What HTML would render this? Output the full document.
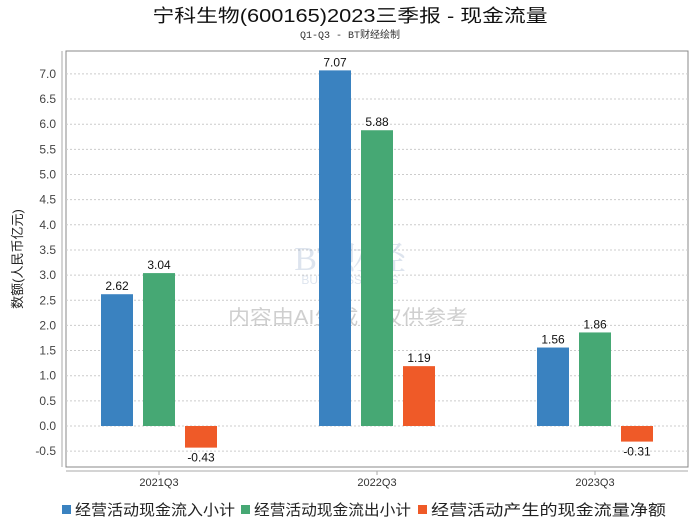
<!DOCTYPE html>
<html><head><meta charset="utf-8"><style>
body{margin:0;background:#fff;font-family:"Liberation Sans","Noto Sans CJK SC",sans-serif;}
</style></head><body>
<svg width="700" height="524" xmlns="http://www.w3.org/2000/svg" font-family="Liberation Sans, Noto Sans CJK SC, sans-serif">
<text x="350" y="22" text-anchor="middle" font-size="18" fill="#111" textLength="395" lengthAdjust="spacingAndGlyphs">宁科生物(600165)2023三季报 - 现金流量</text>
<text x="350" y="38" text-anchor="middle" font-size="10" fill="#333" font-family="Liberation Mono, Noto Sans CJK SC, monospace">Q1-Q3 - BT财经绘制</text>
<rect x="66" y="51" width="622" height="416" fill="none" stroke="#888" stroke-width="1"/>
<line x1="62" y1="51" x2="62" y2="467" stroke="#aaa"/>
<line x1="66" y1="471" x2="688" y2="471" stroke="#aaa"/>
<g id="grid"></g>
<g opacity="0.18">
<text x="350" y="270" text-anchor="middle" font-size="34" font-family="Liberation Serif, Noto Serif CJK SC, serif" fill="#4a6fa5">BT财经</text>
<text x="350" y="284" text-anchor="middle" font-size="12" fill="#4a6fa5">BUSINESSTIMES</text>
</g>
<text x="348" y="324" text-anchor="middle" font-size="20" fill="#bbb" opacity="0.7" textLength="240" lengthAdjust="spacingAndGlyphs">内容由AI生成，仅供参考</text>
<g id="bars"></g>
<text transform="translate(22,259) rotate(-90)" text-anchor="middle" font-size="13" fill="#222">数额(人民币亿元)</text>
<g id="legend"></g>
</svg>
<script>
const categories=["2021Q3","2022Q3","2023Q3"];
const inflow=[2.62,7.07,1.56];
const outflow=[3.04,5.88,1.86];
const net=[-0.43,1.19,-0.31];
const seriesNames=["经营活动现金流入小计","经营活动现金流出小计","经营活动产生的现金流量净额"];
const yTicks=[-0.5,0,0.5,1,1.5,2,2.5,3,3.5,4,4.5,5,5.5,6,6.5,7];
const colors=["#3a82c0","#46a874","#ef5a28"];
const NS="http://www.w3.org/2000/svg";
function y(v){return 426-v*50.3;}
function cx(i){return 159+i*218;}
function mk(t,a,p){const e=document.createElementNS(NS,t);for(const k in a)e.setAttribute(k,a[k]);p.appendChild(e);return e;}
const grid=document.getElementById('grid');
yTicks.forEach(t=>{
  const l=mk('line',{x1:66,x2:688,y1:y(t),y2:y(t),stroke:'#ccc','stroke-dasharray':'2,2'},grid);
  
  
  const tx=mk('text',{x:56,y:y(t)+4,'text-anchor':'end','font-size':12,fill:'#444'},grid);
  tx.textContent=t.toFixed(1);
  
  
});
const bars=document.getElementById('bars');
const series=[inflow,outflow,net];
categories.forEach((c,i)=>{
  const tk=mk('line',{x1:cx(i),x2:cx(i),y1:471,y2:475,stroke:'#aaa'},bars);
  
  
  const lt=mk('text',{x:cx(i),y:486,'text-anchor':'middle','font-size':11,fill:'#333'},bars);
  lt.textContent=c;
  
  
  series.forEach((s,j)=>{
    const v=s[i];const x=cx(i)-58+j*42;
    const top=Math.min(y(v),y(0)),h=Math.abs(y(v)-y(0));
    const r=mk('rect',{x:x,y:top,width:32,height:h,fill:colors[j]},bars);
    
    
    const t=mk('text',{x:x+16,y:v>=0?y(v)-4:y(v)+14,'text-anchor':'middle','font-size':12,fill:'#111'},bars);
    t.textContent=v.toFixed(2);
    
    
  });
});
const lg=document.getElementById('legend');
const legX=[62,241,418];
const legW=[160,157,235];
seriesNames.forEach((n,j)=>{
  const r=mk('rect',{x:legX[j],y:505,width:9,height:9,fill:colors[j]},lg);
  
  
  const t=mk('text',{x:legX[j]+13,y:515,'font-size':15,fill:'#222',textLength:legW[j],lengthAdjust:'spacingAndGlyphs'},lg);
  t.textContent=n;
  
  
});
</script>
</body></html>
